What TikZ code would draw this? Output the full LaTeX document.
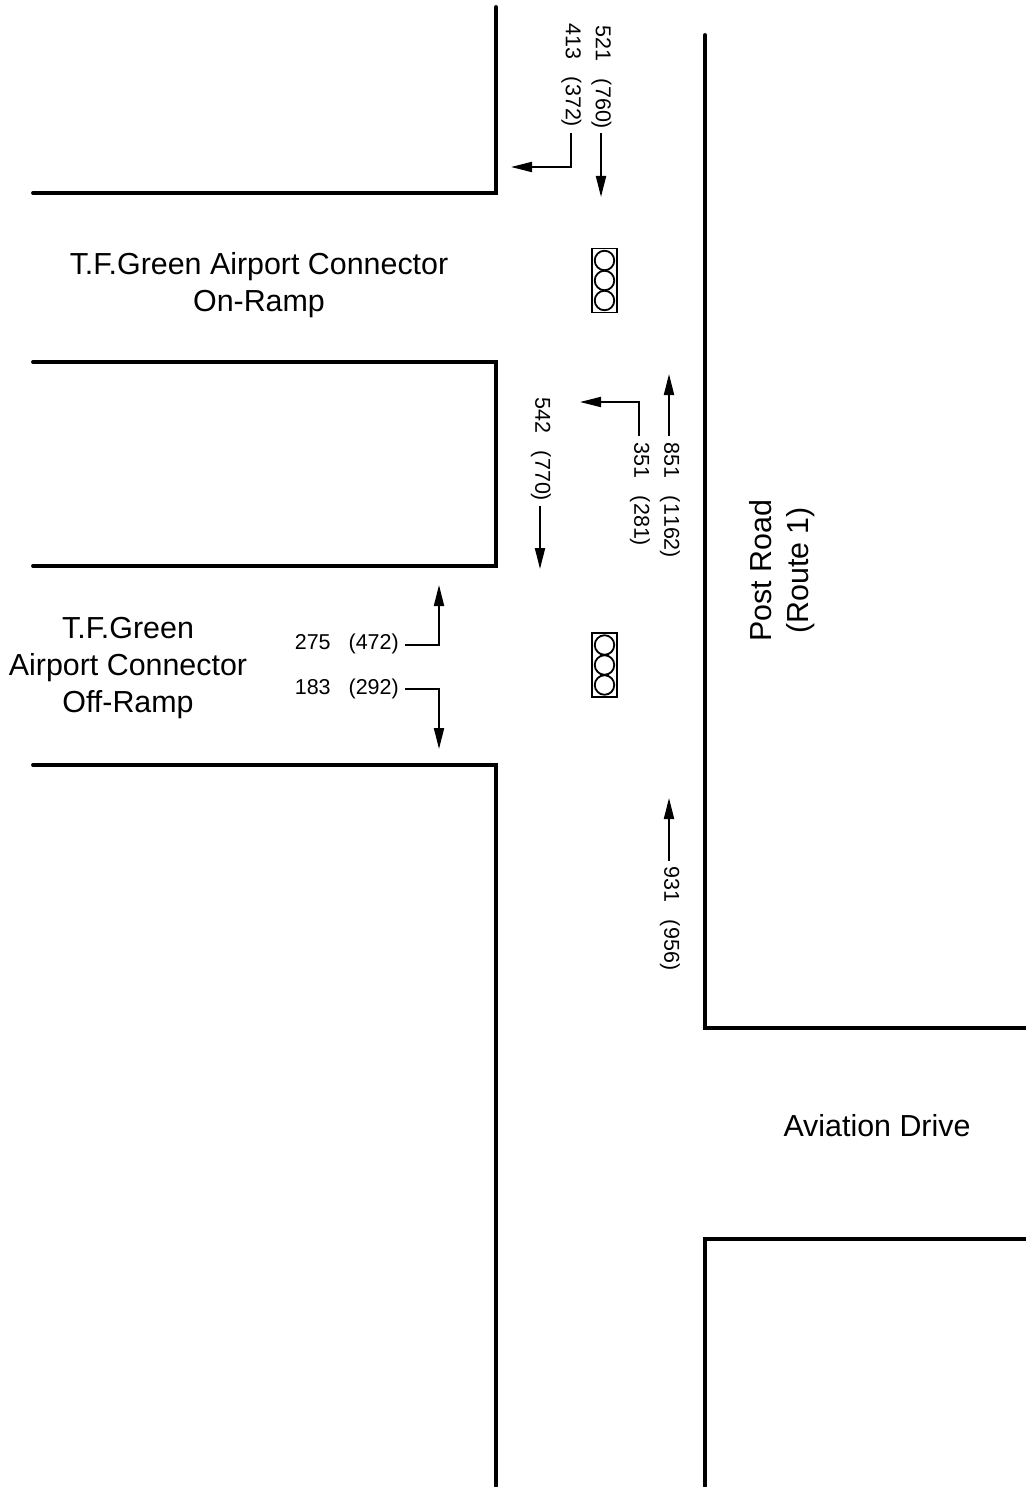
\documentclass[tikz,border=0pt]{standalone}
\usepackage{fontspec}
\setmainfont{Liberation Sans}
\newfontfamily\smallface[Kerning=Off]{Liberation Sans}
\usetikzlibrary{arrows.meta}
\tikzset{
 road/.style={line width=3.8pt,line cap=round,line join=miter},
 conn/.style={line width=1.9pt,-{Triangle[length=21pt,width=10pt]}},
 big/.style={font=\fontsize{30.4}{36.7}\selectfont,align=center,inner sep=0pt},
 small/.style={font=\smallface\fontsize{21.5}{24}\selectfont,inner sep=0pt},
 vsmall/.style={small,rotate=-90},
 lamp/.style={draw,line width=1.8pt,circle,minimum size=19.5pt,inner sep=0pt},
 housing/.style={draw,line width=1.8pt,minimum width=25pt,minimum height=64pt,inner sep=0pt},
}
\newcommand{\sigstack}[3]{%
 \node[housing] (#1h) at (#2,#3) {};
 \node[lamp] (#1a) at (#2,#3-20) {};
 \node[lamp] (#1b) at (#2,#3) {};
 \node[lamp] (#1c) at (#2,#3+20) {};
}
\begin{document}
\begin{tikzpicture}[x=1pt,y=-1pt]
\useasboundingbox (0,0) rectangle (1025,1487);
\draw[road] (496,7) -- (496,193) -- (33,193);
\draw[road] (33,362) -- (496,362) -- (496,566) -- (33,566);
\draw[road] (33,765) -- (496,765) -- (496,1486);
\draw[road] (705,35) -- (705,1028) -- (1026,1028);
\draw[road] (1026,1239) -- (705,1239) -- (705,1486);

\node[big] (onramp) at (259,285) {T.F.Green Airport Connector\\On-Ramp};
\node[big] (offramp) at (128,668) {T.F.Green\\Airport Connector\\Off-Ramp};
\node[big,rotate=90] (post) at (782,570.5) {Post Road\\(Route 1)};
\node[big] (aviation) at (877,1125.5) {Aviation Drive};

\sigstack{s}{604.5}{280.5}
\sigstack{t}{604.5}{665}

\node[vsmall,anchor=west] (a) at (601.5,25) {521\ \ \ (760)};
\node[vsmall,anchor=west] (b) at (571.5,23) {413\ \ \ (372)};
\coordinate (a1) at (601,133);
\coordinate (a2) at (601,197);
\draw[conn] (a1) -- (a2);
\coordinate (b1) at (571,133);
\coordinate (b2) at (571,167);
\coordinate (b3) at (511,167);
\draw[conn] (b1) -- (b2) -- (b3);

\node[vsmall,anchor=west] (c) at (670,442) {851\ \ \ (1162)};
\node[vsmall,anchor=west] (d) at (640,442) {351\ \ \ (281)};
\node[vsmall,anchor=west] (e) at (541,397) {542\ \ \ (770)};
\coordinate (c1) at (669,436);
\coordinate (c2) at (669,374);
\draw[conn] (c1) -- (c2);
\coordinate (d1) at (639,436);
\coordinate (d2) at (639,402);
\coordinate (d3) at (580,402);
\draw[conn] (d1) -- (d2) -- (d3);
\coordinate (e1) at (540,506);
\coordinate (e2) at (540,569);
\draw[conn] (e1) -- (e2);

\node[small,anchor=east] (f) at (399,644) {275\ \ \ (472)};
\node[small,anchor=east] (g) at (399,689) {183\ \ \ (292)};
\coordinate (f1) at (405,645);
\coordinate (f2) at (439,645);
\coordinate (f3) at (439,585);
\draw[conn] (f1) -- (f2) -- (f3);
\coordinate (g1) at (405,689);
\coordinate (g2) at (439,689);
\coordinate (g3) at (439,749);
\draw[conn] (g1) -- (g2) -- (g3);

\node[vsmall,anchor=west] (h) at (670,866) {931\ \ \ (956)};
\coordinate (h1) at (669,861);
\coordinate (h2) at (669,798);
\draw[conn] (h1) -- (h2);
\end{tikzpicture}
\end{document}
